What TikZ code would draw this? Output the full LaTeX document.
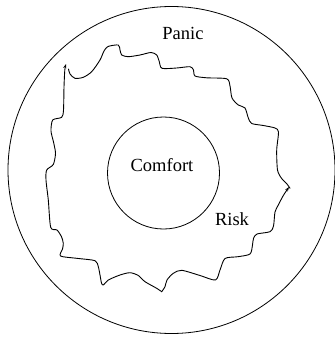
\documentclass[tikz,border=0pt]{standalone}
\usepackage{fontspec}
\setmainfont{Liberation Serif}
\usetikzlibrary{arrows.meta}
\tikzset{
  ring/.style={draw, line width=0.8pt},
  wave/.style={line width=0.9pt, line join=round, line cap=round},
  wavearrow/.style={wave, -{Stealth[length=4.5pt,width=3.2pt]}},
  lbl/.style={font=\fontsize{18.5}{21}\selectfont, inner sep=0pt}
}
\begin{document}
\begin{tikzpicture}[x=1pt,y=-1pt]
\useasboundingbox (0,0) rectangle (334,339);
\node[ring, circle, minimum size=327pt, inner sep=0pt] (outer) at (171.5,170) {};
\node[ring, circle, minimum size=112pt, inner sep=0pt] (inner) at (163.5,173) {};
\node[lbl] (comfort) at (162,165) {Comfort};
\node[lbl] (panic) at (183,33) {Panic};
\node[lbl] (risk) at (232,219) {Risk};
\coordinate (tl) at (66,64);
\coordinate (rt) at (289,187);
\coordinate (bot) at (161.7,291.7);
% top stroke
\draw[wave] plot[smooth, tension=0.45] coordinates {
 (68.5,69) (70,74) (75,78.3) (83.3,77.3) (91.7,71.7) (100,60) (104,51)
 (108,46.5) (118.3,45) (120,50) (121.7,55) (128.3,56.7) (140,55) (151,52.5)
 (156.7,55) (159.3,61.7) (162,68.3) (176.7,68) (190,66.7) (193.5,70) (195,76)
 (206.7,77.8) (226.7,78.8) (230,86) (232,98) (238.3,105) (245,108) (248.3,118)
 (251.7,123.5) (263.3,125.5) (275,128) (278.5,132) (276.7,150) (277.5,170)
 (281.5,178.3) (287,184) (290,188.3)};
% lower right stroke
\draw[wavearrow] plot[smooth, tension=0.45] coordinates {
 (bot) (165,286.7) (167,280) (173.3,273.3) (181.7,270.3) (200,275.5) (215.5,280)
 (220,270) (225,258.5) (238,256.7) (250,254) (252.5,245) (253.5,238.3) (257,234)
 (270,231.7) (273.5,226) (275,212) (278.3,205) (283.3,195.5) (rt)};
% lower left stroke
\draw[wavearrow] plot[smooth, tension=0.45] coordinates {
 (bot) (156.7,288.3) (145,281.7) (138.3,275.5) (130,272.7) (120,275) (108.3,280)
 (103.3,285) (101.5,283) (100,275) (98.3,266.7) (95,260.7) (76.7,258.3) (60.5,256)
 (62.5,249) (63.3,243.3) (61.5,236.7) (57,230) (50.7,227.3) (48.3,200) (46,180)
 (46.7,170) (53.3,164.5) (55.5,153.3) (53.5,142) (51,131) (52.7,120) (61.7,117.3)
 (63.5,110) (64,87) (64.8,70) (tl)};
\end{tikzpicture}
\end{document}
